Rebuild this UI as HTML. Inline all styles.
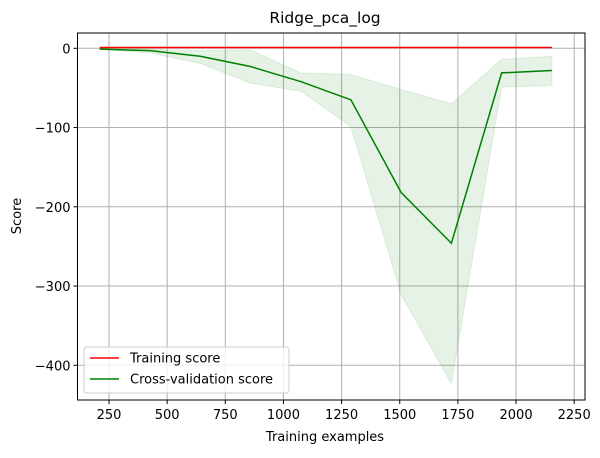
<!DOCTYPE html>
<html><head><meta charset="utf-8"><style>
body{margin:0;background:#fff;}
svg text{font-family:"DejaVu Sans","Liberation Sans",sans-serif;fill:#000;}
</style></head><body>
<svg id="chart" width="600" height="453" xmlns="http://www.w3.org/2000/svg">
<rect width="600" height="453" fill="#fff"/>
<g id="grid"></g>
<g id="band"></g>
<g id="lines"></g>
<rect x="77.5" y="33" width="507.5" height="367" fill="none" stroke="#000" stroke-width="1"/>
<g id="ticks"></g>
<text x="325" y="23" font-size="15.5" text-anchor="middle">Ridge_pca_log</text>
<text x="325" y="441" font-size="13" text-anchor="middle">Training examples</text>
<text x="21" y="216" font-size="13" text-anchor="middle" transform="rotate(-90 21 216)">Score</text>
<g>
<rect x="84" y="347" width="205" height="46" rx="3" fill="#fff" fill-opacity="0.8" stroke="#ccc"/>
<line x1="90" y1="358" x2="119" y2="358" stroke="red" stroke-width="1.5"/>
<text x="130" y="362.5" font-size="13">Training score</text>
<line x1="90" y1="379" x2="119" y2="379" stroke="green" stroke-width="1.5"/>
<text x="130" y="383.5" font-size="13">Cross-validation score</text>
</g>
</svg>
<script>
const sizes=[210,426,642,858,1074,1290,1506,1722,1938,2154];
const trainScores=[1,1,1,1,1,1,1,1,1,1];
const cvMean=[-1,-3,-10,-23,-42,-65,-182,-246,-31,-28];
const cvUpper=[0,-1,-3,-2,-31,-33,-52,-70,-14,-10];
const cvLower=[-1,-6,-19,-44,-54,-99,-311,-423,-49,-47];
const xTicks=[250,500,750,1000,1250,1500,1750,2000,2250];
const yTicks=[0,-100,-200,-300,-400];
const L=77.5,R=585,T=33,B=400;
function xs(v){return 109+(v-250)*0.2326;}
function ys(v){return 48.3-v*0.7925;}
const NS="http://www.w3.org/2000/svg";
function mk(tag,attrs,parent){const e=document.createElementNS(NS,tag);for(const k in attrs)e.setAttribute(k,attrs[k]);document.getElementById(parent).appendChild(e);return e;}
xTicks.forEach(t=>{const x=xs(t);
 const g=mk('line',{x1:x,x2:x,y1:T,y2:B,stroke:'#b0b0b0','stroke-width':1},'grid');
 
 
 const k=mk('line',{x1:x,x2:x,y1:B,y2:B+4,stroke:'#000'},'ticks');
 
 
 const tx=mk('text',{x:x,y:B+19,'font-size':13,'text-anchor':'middle'},'ticks');tx.textContent=t;
 
 
});
yTicks.forEach(t=>{const y=ys(t);
 const g=mk('line',{x1:L,x2:R,y1:y,y2:y,stroke:'#b0b0b0','stroke-width':1},'grid');
 
 
 const k=mk('line',{x1:L-4,x2:L,y1:y,y2:y,stroke:'#000'},'ticks');
 
 
 const tx=mk('text',{x:L-7,y:y+5,'font-size':13,'text-anchor':'end'},'ticks');tx.textContent=(t<0?'\u2212'+(-t):t);
 
 
});
let pts=sizes.map((s,i)=>xs(s)+','+ys(cvUpper[i]));
for(let i=sizes.length-1;i>=0;i--)pts.push(xs(sizes[i])+','+ys(cvLower[i]));
const band=mk('polygon',{points:pts.join(' '),fill:'green','fill-opacity':0.1,stroke:'green','stroke-opacity':0.1},'band');


const tr=mk('polyline',{points:sizes.map((s,i)=>xs(s)+','+ys(trainScores[i])).join(' '),fill:'none',stroke:'red','stroke-width':1.5},'lines');


const cv=mk('polyline',{points:sizes.map((s,i)=>xs(s)+','+ys(cvMean[i])).join(' '),fill:'none',stroke:'green','stroke-width':1.5},'lines');


</script>
</body></html>
